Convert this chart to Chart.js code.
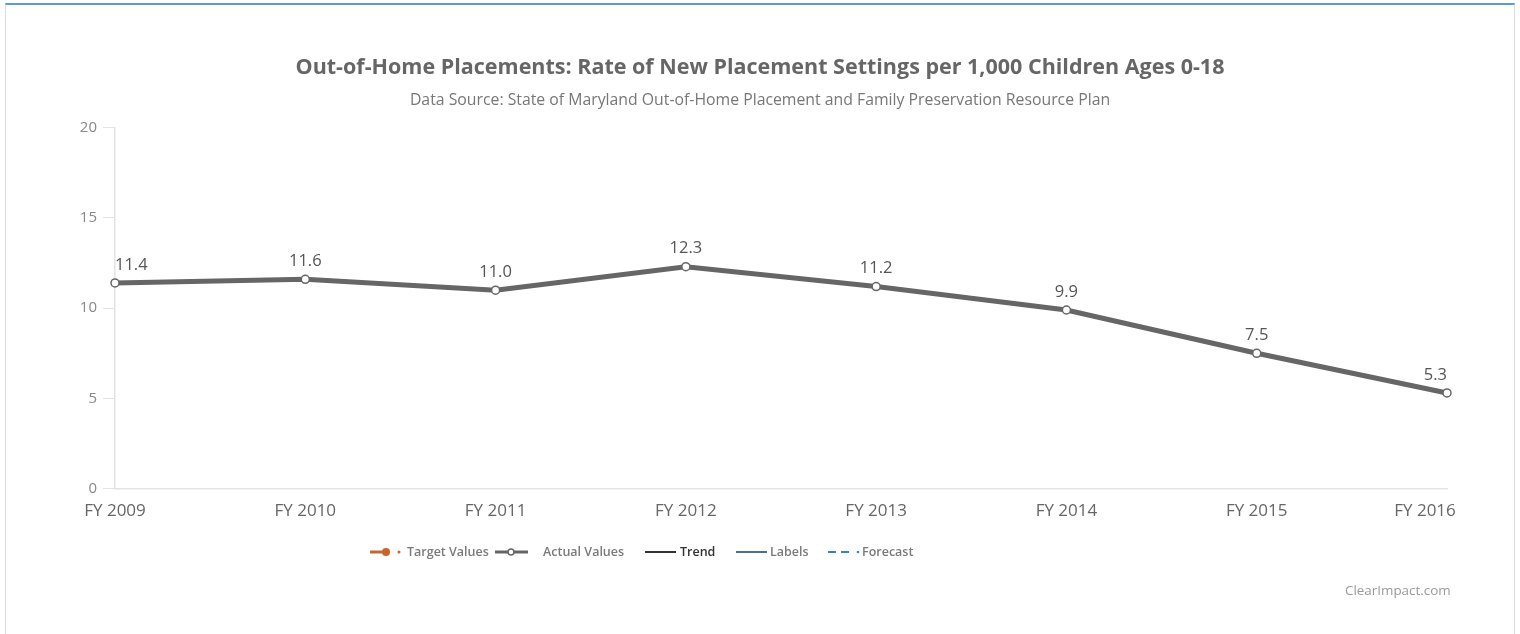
<!DOCTYPE html>
<html>
<head>
<meta charset="utf-8">
<script src="https://cdn.jsdelivr.net/npm/chart.js@4.4.1/dist/chart.umd.min.js"></script>
<style>
    html, body { margin: 0; padding: 0; background: #fff; }
    body { width: 1520px; height: 634px; position: relative; overflow: hidden; font-family: "Open Sans", sans-serif; }
    .frame { position: absolute; left: 5px; top: 3px; width: 1508px; height: 640px;
             border-top: 2px solid #5a9ad8; border-left: 1px solid #dcdcdc; border-right: 1px solid #dcdcdc; }
    #chart-wrap { position: absolute; left: 0; top: 0; width: 1520px; height: 634px; }
    .lg { position: absolute; top: 543px; height: 18px; line-height: 18px; font-size: 12.5px; color: #7a7a7a; font-weight: 600; white-space: nowrap; }
    .lg svg { position: absolute; top: 0; }
    .credit { position: absolute; left: 1345px; top: 581px; font-size: 13.4px; color: #9a9a9a; }
</style>
</head>
<body>
<div class="frame"></div>
<div id="chart-wrap"><canvas id="placements-chart" width="1520" height="634"></canvas></div>

<div class="lg" style="left:370px">
    <svg width="34" height="18"><line x1="0" y1="9" x2="16" y2="9" stroke="#c8652b" stroke-width="3"/><circle cx="16" cy="9" r="4" fill="#c8652b"/><circle cx="29" cy="9" r="1.5" fill="#c8652b"/></svg>
    <span style="position:absolute;left:37px">Target Values</span>
</div>
<div class="lg" style="left:495px">
    <svg width="34" height="18"><line x1="0" y1="9" x2="33" y2="9" stroke="#666" stroke-width="3"/><circle cx="16" cy="9" r="3" fill="#fff" stroke="#666" stroke-width="1.5"/></svg>
    <span style="position:absolute;left:48px">Actual Values</span>
</div>
<div class="lg" style="left:645px;color:#333">
    <svg width="34" height="18"><line x1="0" y1="9" x2="31" y2="9" stroke="#333" stroke-width="2"/></svg>
    <span style="position:absolute;left:35px">Trend</span>
</div>
<div class="lg" style="left:736px">
    <svg width="34" height="18"><line x1="0" y1="9" x2="31" y2="9" stroke="#4a6f99" stroke-width="2"/></svg>
    <span style="position:absolute;left:34px">Labels</span>
</div>
<div class="lg" style="left:828px">
    <svg width="34" height="18"><line x1="0" y1="9" x2="8" y2="9" stroke="#3d7fc4" stroke-width="2"/><line x1="13" y1="9" x2="21" y2="9" stroke="#3d7fc4" stroke-width="2"/><circle cx="30" cy="9" r="1.3" fill="#3d7fc4"/></svg>
    <span style="position:absolute;left:34px">Forecast</span>
</div>
<div class="credit">ClearImpact.com</div>

<script>
const years = ['FY 2009', 'FY 2010', 'FY 2011', 'FY 2012', 'FY 2013', 'FY 2014', 'FY 2015', 'FY 2016'];
const actualValues = [11.4, 11.6, 11.0, 12.3, 11.2, 9.9, 7.5, 5.3];
const yTicks = [0, 5, 10, 15, 20];

const FONT = '"Open Sans", sans-serif';

// value labels above each point; end labels kept inside the plot
const valueLabels = {
    id: 'valueLabels',
    afterDatasetsDraw(chart) {
        const ctx = chart.ctx;
        const meta = chart.getDatasetMeta(0);
        const last = meta.data.length - 1;
        ctx.save();
        ctx.font = '16.5px ' + FONT;
        ctx.fillStyle = '#555';
        ctx.textBaseline = 'middle';
        meta.data.forEach((pt, i) => {
            ctx.textAlign = i === 0 ? 'left' : (i === last ? 'right' : 'center');
            ctx.fillText(actualValues[i].toFixed(1), pt.x, pt.y - 18);
        });
        ctx.restore();
    }
};

// pull the last x label inward like the original does
const shiftLastLabel = {
    id: 'shiftLastLabel',
    beforeDraw(chart) {
        const items = chart.scales.x.getLabelItems();
        const it = items[items.length - 1];
        if (it && !it._shifted) {
            it.options.translation[0] -= 22;
            it._shifted = true;
        }
    }
};

new Chart(document.getElementById('placements-chart'), {
    type: 'line',
    data: {
        labels: years,
        datasets: [{
            label: 'Actual Values',
            data: actualValues,
            borderColor: '#666',
            borderWidth: 5,
            pointRadius: 4,
            pointBorderWidth: 1.5,
            pointBackgroundColor: '#fff',
            pointBorderColor: '#666',
            tension: 0,
            fill: false,
        }],
    },
    options: {
        responsive: false,
        animation: false,
        layout: { padding: { left: 0, right: 0, top: 0, bottom: 101 } },
        plugins: {
            legend: { display: false },
            tooltip: { enabled: false },
            title: {
                display: true,
                text: 'Out-of-Home Placements: Rate of New Placement Settings per 1,000 Children Ages 0-18',
                color: '#666',
                font: { family: FONT, size: 21.5, weight: 'bold' },
                padding: { top: 55, bottom: 10 },
            },
            subtitle: {
                display: true,
                text: 'Data Source: State of Maryland Out-of-Home Placement and Family Preservation Resource Plan',
                color: '#777',
                font: { family: FONT, size: 15.8 },
                padding: { top: 0, bottom: 18 },
            },
        },
        scales: {
            x: {
                offset: false,
                grid: { display: false, drawTicks: false },
                border: { display: true, color: '#e3e3e3', width: 1.5 },
                ticks: { color: '#666', padding: 12, maxRotation: 0, font: { family: FONT, size: 17 } },
            },
            y: {
                min: 0,
                max: 20,
                afterBuildTicks(axis) { axis.ticks = yTicks.map(v => ({ value: v })); },
                afterFit(axis) { axis.width = 115; },
                grid: { drawOnChartArea: false, drawTicks: true, tickLength: 12, color: '#e3e3e3' },
                border: { display: true, color: '#e3e3e3', width: 1.5 },
                ticks: { color: '#888', padding: 6, font: { family: FONT, size: 15 } },
            },
            // empty right-hand spacer so the titles stay centred on the page
            spacer: {
                type: 'linear',
                position: 'right',
                grid: { display: false },
                border: { display: false },
                ticks: { display: false },
                afterFit(axis) { axis.width = 73; },
            },
        },
    },
    plugins: [valueLabels, shiftLastLabel],
});
</script>
</body>
</html>
